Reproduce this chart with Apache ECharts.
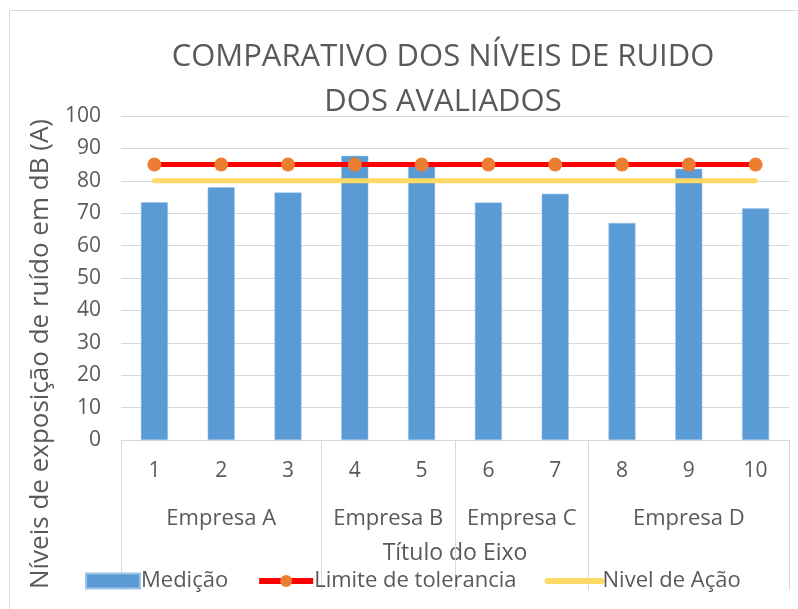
<!DOCTYPE html>
<html>
<head>
<meta charset="utf-8">
<script src="https://cdn.jsdelivr.net/npm/echarts@6/dist/echarts.min.js"></script>
<style>
  html, body { margin: 0; padding: 0; background: #fff; }
  #chart { width: 798px; height: 609px; }
</style>
</head>
<body>
<div id="chart"></div>
<script>
var categories = ['1', '2', '3', '4', '5', '6', '7', '8', '9', '10'];
var groups = ['Empresa A', 'Empresa B', 'Empresa C', 'Empresa D'];
var groupBounds = [0, 3, 5, 7, 10];
var medicao = [73.4, 78.0, 76.4, 87.7, 84.5, 73.3, 76.0, 67.0, 83.7, 71.5];
var limite = [85, 85, 85, 85, 85, 85, 85, 85, 85, 85];
var nivelAcao = [80, 80, 80, 80, 80, 80, 80, 80, 80, 80];

var groupCenters = [];
for (var i = 0; i < groups.length; i++) {
  groupCenters.push((groupBounds[i] + groupBounds[i + 1]) / 2);
}

var font = 'Open Sans';
var grey = '#595959';

var chart = echarts.init(document.getElementById('chart'));
var option = {
  animation: false,
  textStyle: { fontFamily: font },
  title: {
    text: 'COMPARATIVO DOS NÍVEIS DE RUIDO\nDOS AVALIADOS',
    left: 438,
    top: 30,
    textAlign: 'center',
    textStyle: { fontSize: 31, fontWeight: 'normal', color: grey, lineHeight: 45, fontFamily: font }
  },
  graphic: [{
    type: 'rect',
    shape: { x: 9.5, y: 10.5, width: 800, height: 620 },
    style: { fill: 'none', stroke: '#d9d9d9', lineWidth: 1 },
    silent: true
  }],
  legend: {
    top: 565,
    left: 80,
    itemWidth: 54,
    itemHeight: 15,
    itemGap: 28,
    textStyle: { fontSize: 22, color: grey, padding: [0, 0, 0, -4] },
    data: [
      { name: 'Medição', icon: 'rect' },
      { name: 'Limite de tolerancia', lineStyle: { width: 6 } },
      { name: 'Nivel de Ação', itemStyle: { opacity: 0 }, lineStyle: { width: 6 } }
    ]
  },
  grid: { left: 121, right: 9, top: 116, bottom: 169 },
  xAxis: [{
    type: 'category',
    data: categories,
    name: 'Título do Eixo',
    nameLocation: 'middle',
    nameGap: 102,
    nameTextStyle: { fontSize: 23, color: grey },
    axisLine: { lineStyle: { color: '#d9d9d9' } },
    axisTick: { show: false },
    axisLabel: { fontSize: 21, color: grey, margin: 21 }
  }, {
    type: 'value',
    position: 'bottom',
    min: 0,
    max: 10,
    splitLine: { show: false },
    axisLine: { show: false },
    axisTick: {
      show: true,
      customValues: groupBounds,
      length: 150,
      lineStyle: { color: '#d9d9d9' }
    },
    axisLabel: {
      customValues: groupCenters,
      fontSize: 22,
      color: grey,
      margin: 68,
      formatter: function (v) {
        return groups[groupCenters.indexOf(v)];
      }
    }
  }],
  yAxis: {
    type: 'value',
    min: 0,
    max: 100,
    interval: 10,
    name: 'Níveis de exposição de ruído em dB (A)',
    nameLocation: 'middle',
    nameGap: 64,
    nameTextStyle: { fontSize: 26, color: grey, padding: [0, 152, 0, 0] },
    axisLine: { show: false },
    axisTick: { show: false },
    axisLabel: { fontSize: 21, color: grey, margin: 20 },
    splitLine: { lineStyle: { color: '#d9d9d9', width: 1 } }
  },
  series: [{
    name: 'Medição',
    type: 'bar',
    data: medicao,
    barWidth: 27,
    itemStyle: { color: '#5b9bd5', borderColor: '#9dc3e6', borderWidth: 0.5 }
  }, {
    name: 'Limite de tolerancia',
    type: 'line',
    data: limite,
    symbol: 'circle',
    symbolSize: 14,
    lineStyle: { color: '#ff0000', width: 5 },
    itemStyle: { color: '#ed7d31' }
  }, {
    name: 'Nivel de Ação',
    type: 'line',
    data: nivelAcao,
    symbol: 'none',
    lineStyle: { color: '#ffd966', width: 5, cap: 'round' },
    itemStyle: { color: '#ffd966' }
  }]
};
chart.setOption(option);
</script>
</body>
</html>
